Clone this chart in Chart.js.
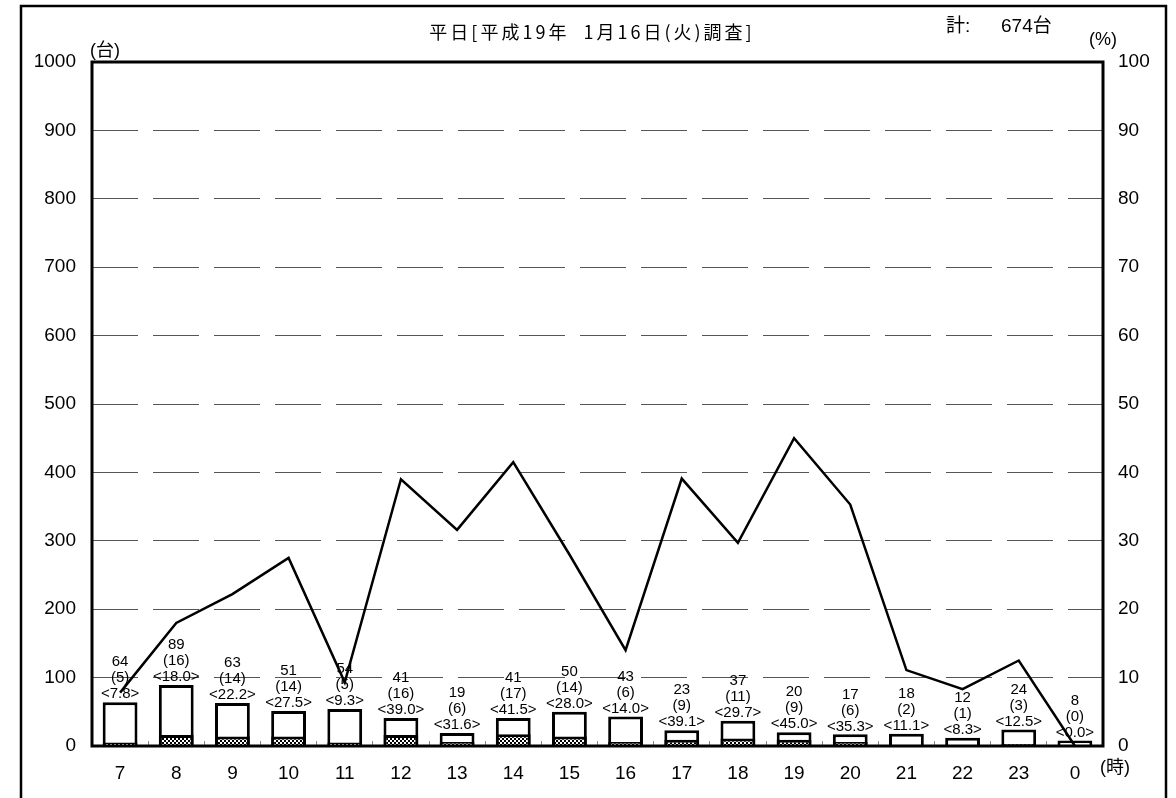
<!DOCTYPE html>
<html>
<head>
<meta charset="utf-8">
<script src="https://cdn.jsdelivr.net/npm/chart.js@4/dist/chart.umd.min.js"></script>
<style>
  html, body { margin: 0; padding: 0; background: #fff; }
  canvas { display: block; }
</style>
</head>
<body>
<canvas id="chart" width="1176" height="798"></canvas>
<script>
// 時間帯別交通量（平日）
const hours = ['7', '8', '9', '10', '11', '12', '13', '14', '15', '16', '17', '18', '19', '20', '21', '22', '23', '0'];
const totalVehicles = [64, 89, 63, 51, 54, 41, 19, 41, 50, 43, 23, 37, 20, 17, 18, 12, 24, 8];
const largeVehicles = [5, 16, 14, 14, 5, 16, 6, 17, 14, 6, 9, 11, 9, 6, 2, 1, 3, 0];
const largeRatio = [7.8, 18.0, 22.2, 27.5, 9.3, 39.0, 31.6, 41.5, 28.0, 14.0, 39.1, 29.7, 45.0, 35.3, 11.1, 8.3, 12.5, 0.0];
const countTicks = [0, 100, 200, 300, 400, 500, 600, 700, 800, 900, 1000];
const ratioTicks = [0, 10, 20, 30, 40, 50, 60, 70, 80, 90, 100];

const titleText = '平日[平成19年  1月16日(火)調査]';
const FONT = '"Liberation Sans", Arial, "Noto Sans CJK JP", sans-serif';

// checker pattern for the large-vehicle part
const pc = document.createElement('canvas');
pc.width = 4; pc.height = 4;
const pctx = pc.getContext('2d');
pctx.fillStyle = '#fff';
pctx.fillRect(0, 0, 4, 4);
pctx.fillStyle = '#000';
pctx.fillRect(0, 0, 2, 2);
pctx.fillRect(2, 2, 2, 2);
const checker = pctx.createPattern(pc, 'repeat');

const frame = {
    id: 'frame',
    beforeDraw(chart) {
        const c = chart.ctx;
        c.save();
        c.fillStyle = '#fff';
        c.fillRect(0, 0, chart.width, chart.height);
        c.strokeStyle = '#000';
        c.lineWidth = 2.5;
        c.strokeRect(21, 6, 1145, 820);
        c.restore();
    },
    afterDraw(chart) {
        const c = chart.ctx;
        const a = chart.chartArea;
        c.save();
        c.strokeStyle = '#000';
        c.lineWidth = 3;
        c.strokeRect(a.left, a.top, a.right - a.left, a.bottom - a.top);

        c.fillStyle = '#000';
        c.textBaseline = 'middle';
        c.textAlign = 'center';
        c.font = '18px "Noto Sans CJK JP", sans-serif';
        c.letterSpacing = '3px';
        c.fillText(titleText, 592, 32);
        c.letterSpacing = '0px';

        c.textAlign = 'left';
        c.font = '19px ' + FONT;
        c.fillText('計:', 946, 27);
        c.fillText('674台', 1001, 27);

        c.textAlign = 'center';
        c.font = '18px ' + FONT;
        c.fillText('(台)', 105, 51);
        c.fillText('(%)', 1103, 40);
        c.fillText('(時)', 1115, 768);
        c.restore();
    }
};

const barLabels = {
    id: 'barLabels',
    afterDatasetsDraw(chart) {
        const meta = chart.getDatasetMeta(2);
        const c = chart.ctx;
        c.save();
        c.font = '15px ' + FONT;
        c.textAlign = 'center';
        c.textBaseline = 'middle';
        c.fillStyle = '#000';
        meta.data.forEach((bar, i) => {
            const lines = [
                String(totalVehicles[i]),
                '(' + largeVehicles[i] + ')',
                '<' + largeRatio[i].toFixed(1) + '>'
            ];
            lines.forEach((t, k) => c.fillText(t, bar.x, bar.y - 8 - (2 - k) * 16));
        });
        c.restore();
    }
};

const ctx = document.getElementById('chart').getContext('2d');
new Chart(ctx, {
    type: 'bar',
    data: {
        labels: hours,
        datasets: [{
            type: 'line',
            label: '大型車混入率',
            data: largeRatio,
            yAxisID: 'y2',
            borderColor: '#000',
            borderWidth: 2.5,
            pointRadius: 0,
            tension: 0,
            order: 0
        }, {
            label: '大型車',
            data: largeVehicles,
            backgroundColor: checker,
            borderColor: '#000',
            borderWidth: 3,
            grouped: false,
            barPercentage: 0.62,
            categoryPercentage: 1,
            order: 1
        }, {
            label: '合計',
            data: totalVehicles,
            backgroundColor: '#fff',
            borderColor: '#000',
            borderWidth: 3,
            grouped: false,
            barPercentage: 0.62,
            categoryPercentage: 1,
            order: 2
        }]
    },
    options: {
        responsive: false,
        animation: false,
        layout: { padding: { top: 62, left: 0, right: 0, bottom: 0 } },
        plugins: {
            legend: { display: false },
            tooltip: { enabled: false }
        },
        scales: {
            x: {
                offset: true,
                grid: { offset: true, drawOnChartArea: false, tickLength: -5, color: '#888', lineWidth: 1 },
                border: { display: false },
                ticks: { padding: 21, color: '#000', font: { family: FONT, size: 19 } },
                afterFit: s => { s.height = 52; }
            },
            y: {
                position: 'left',
                min: 0,
                max: 1000,
                afterBuildTicks: s => { s.ticks = countTicks.map(v => ({ value: v })); },
                grid: { color: '#555', lineWidth: 1, drawTicks: false },
                border: { display: false, dash: [46, 15] },
                ticks: { padding: 16, color: '#000', font: { family: FONT, size: 19 }, callback: v => String(v) },
                afterFit: s => { s.width = 92; }
            },
            y2: {
                position: 'right',
                min: 0,
                max: 100,
                afterBuildTicks: s => { s.ticks = ratioTicks.map(v => ({ value: v })); },
                grid: { display: false, drawTicks: false },
                border: { display: false },
                ticks: { padding: 15, color: '#000', font: { family: FONT, size: 19 }, callback: v => String(v) },
                afterFit: s => { s.width = 73; }
            }
        }
    },
    plugins: [frame, barLabels]
});
</script>
</body>
</html>
